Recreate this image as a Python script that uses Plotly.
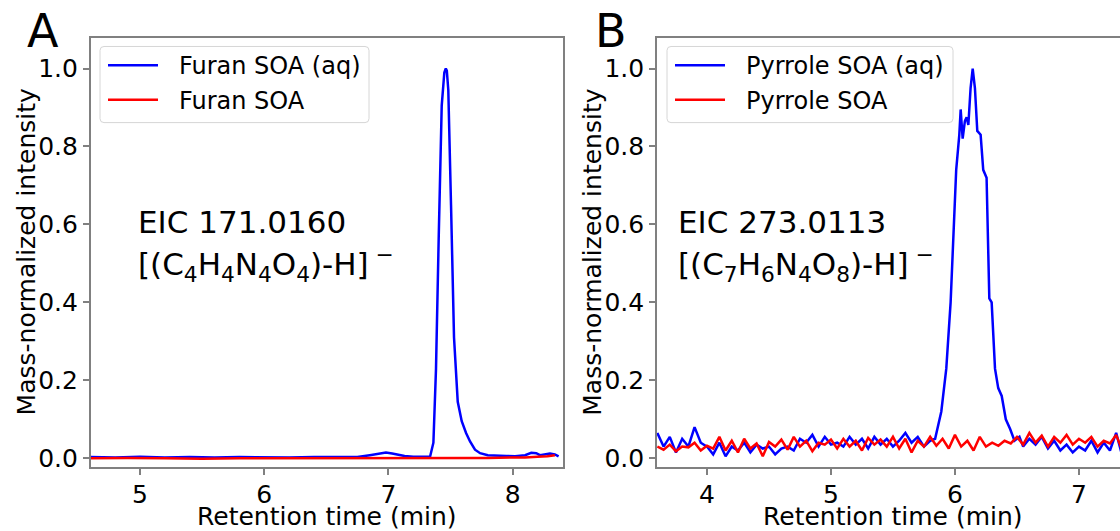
import plotly.graph_objects as go

# ---------------- Data ----------------
# Panel A: EIC 171.0160, Furan SOA
furan_aq_time = [4.60, 4.80, 5.00, 5.20, 5.40, 5.60, 5.80, 6.00, 6.20, 6.40, 6.60, 6.75,
                 6.85, 6.93, 6.98, 7.03, 7.08, 7.13, 7.20, 7.28, 7.335, 7.362, 7.383,
                 7.405, 7.429, 7.45, 7.462, 7.47, 7.482, 7.504, 7.528, 7.558, 7.59,
                 7.625, 7.657, 7.697, 7.738, 7.80, 7.88, 7.95, 8.02, 8.10, 8.15, 8.19,
                 8.22, 8.26, 8.30, 8.34, 8.37]
furan_aq_int = [0.003, 0.002, 0.004, 0.002, 0.003, 0.002, 0.003, 0.002, 0.002, 0.003, 0.002, 0.003,
                0.008, 0.013, 0.015, 0.012, 0.009, 0.006, 0.004, 0.003, 0.004, 0.040, 0.230,
                0.570, 0.905, 0.990, 1.000, 0.995, 0.945, 0.650, 0.310, 0.145, 0.095,
                0.065, 0.043, 0.022, 0.013, 0.008, 0.006, 0.006, 0.005, 0.008, 0.014, 0.013,
                0.008, 0.010, 0.012, 0.010, 0.005]

furan_time = [4.60, 4.90, 5.20, 5.50, 5.80, 6.10, 6.40, 6.70, 7.00, 7.30, 7.60, 7.80,
              8.00, 8.10, 8.20, 8.28, 8.34]
furan_int = [0.000, 0.001, 0.000, -0.001, 0.000, 0.000, 0.001, 0.000, 0.000, 0.000, 0.000, 0.001,
             0.002, 0.002, 0.004, 0.005, 0.008]

# Panel B: EIC 273.0113, Pyrrole SOA
pyrrole_aq_time = [3.60, 3.65, 3.70, 3.75, 3.80, 3.85, 3.90, 3.95, 4.00, 4.05, 4.10, 4.15,
                   4.20, 4.25, 4.30, 4.35, 4.40, 4.45, 4.50, 4.55, 4.60, 4.65, 4.70, 4.75,
                   4.80, 4.85, 4.90, 4.95, 5.00, 5.05, 5.10, 5.15, 5.20, 5.25, 5.30, 5.35,
                   5.40, 5.45, 5.50, 5.55, 5.60, 5.65, 5.70, 5.75, 5.80, 5.84, 5.89, 5.93,
                   5.965, 5.99, 6.01, 6.035, 6.046, 6.062, 6.08, 6.094, 6.108, 6.126, 6.143,
                   6.161, 6.18, 6.207, 6.228, 6.255, 6.277, 6.296, 6.323, 6.349, 6.377, 6.41,
                   6.445, 6.48, 6.52, 6.55, 6.60, 6.65, 6.70, 6.75, 6.80, 6.85, 6.90, 6.95,
                   7.00, 7.05, 7.10, 7.15, 7.20, 7.25, 7.30, 7.35, 7.40]
pyrrole_aq_int = [0.065, 0.030, 0.055, 0.015, 0.050, 0.030, 0.080, 0.040, 0.030, 0.010, 0.040, 0.005,
                  0.030, 0.020, 0.040, 0.015, 0.035, 0.025, 0.030, 0.010, 0.025, 0.030, 0.020, 0.050,
                  0.040, 0.060, 0.030, 0.055, 0.035, 0.040, 0.030, 0.055, 0.035, 0.050, 0.025, 0.055,
                  0.035, 0.050, 0.030, 0.045, 0.065, 0.040, 0.055, 0.030, 0.045, 0.050, 0.120, 0.230,
                  0.400, 0.570, 0.740, 0.830, 0.895, 0.820, 0.865, 0.875, 0.855, 0.950, 1.000,
                  0.950, 0.840, 0.830, 0.740, 0.720, 0.410, 0.400, 0.230, 0.180, 0.160, 0.100,
                  0.075, 0.045, 0.055, 0.030, 0.050, 0.035, 0.055, 0.025, 0.045, 0.020, 0.035, 0.015,
                  0.030, 0.020, 0.045, 0.015, 0.040, 0.020, 0.065, 0.005, 0.050]

pyrrole_time = [3.60, 3.65, 3.70, 3.75, 3.80, 3.85, 3.90, 3.95, 4.00, 4.05, 4.10, 4.15,
                4.20, 4.25, 4.30, 4.35, 4.40, 4.45, 4.50, 4.55, 4.60, 4.65, 4.70, 4.75,
                4.80, 4.85, 4.90, 4.95, 5.00, 5.05, 5.10, 5.15, 5.20, 5.25, 5.30, 5.35,
                5.40, 5.45, 5.50, 5.55, 5.60, 5.65, 5.70, 5.75, 5.80, 5.85, 5.90, 5.95,
                6.00, 6.05, 6.10, 6.15, 6.20, 6.25, 6.30, 6.35, 6.40, 6.45, 6.50, 6.55,
                6.60, 6.65, 6.70, 6.75, 6.80, 6.85, 6.90, 6.95, 7.00, 7.05, 7.10, 7.15,
                7.20, 7.25, 7.30, 7.35, 7.40]
pyrrole_int = [0.030, 0.022, 0.035, 0.018, 0.030, 0.028, 0.040, 0.020, 0.032, 0.025, 0.055, 0.020,
               0.045, 0.015, 0.050, 0.025, 0.038, 0.005, 0.042, 0.030, 0.048, 0.022, 0.055, 0.030,
               0.045, 0.018, 0.040, 0.035, 0.048, 0.025, 0.050, 0.030, 0.045, 0.020, 0.052, 0.035,
               0.048, 0.030, 0.055, 0.025, 0.050, 0.015, 0.045, 0.030, 0.055, 0.032, 0.050, 0.025,
               0.060, 0.030, 0.045, 0.020, 0.055, 0.030, 0.040, 0.032, 0.045, 0.038, 0.055, 0.035,
               0.065, 0.040, 0.058, 0.030, 0.055, 0.040, 0.060, 0.035, 0.050, 0.040, 0.055, 0.030,
               0.045, 0.038, 0.060, 0.020, 0.050]

x_ticks_a = [5, 6, 7, 8]
x_ticks_b = [4, 5, 6, 7]
y_ticks = [0.0, 0.2, 0.4, 0.6, 0.8, 1.0]

legend_a = ["Furan SOA (aq)", "Furan SOA"]
legend_b = ["Pyrrole SOA (aq)", "Pyrrole SOA"]

# ---------------- Figure ----------------
W, H = 1120, 531
FONT = "DejaVu Sans"
TICK_FS = 25
LEG_FS = 24
AXIS_GRAY = "#808080"
BLUE, RED = "#0000ff", "#ff0000"
LW = 2.5

fig = go.Figure()
fig.add_trace(go.Scatter(x=furan_aq_time, y=furan_aq_int, mode="lines", name=legend_a[0],
                         line=dict(color=BLUE, width=LW), xaxis="x", yaxis="y"))
fig.add_trace(go.Scatter(x=furan_time, y=furan_int, mode="lines", name=legend_a[1],
                         line=dict(color=RED, width=LW), xaxis="x", yaxis="y"))
fig.add_trace(go.Scatter(x=pyrrole_aq_time, y=pyrrole_aq_int, mode="lines", name=legend_b[0],
                         line=dict(color=BLUE, width=LW), xaxis="x2", yaxis="y2"))
fig.add_trace(go.Scatter(x=pyrrole_time, y=pyrrole_int, mode="lines", name=legend_b[1],
                         line=dict(color=RED, width=LW), xaxis="x2", yaxis="y2"))


def px(x):
    return x / W


def py(y):
    return 1 - y / H


top_px, bot_px = 38.3, 472.3
a_left, a_right = 90.7, 562.7
b_left = 657.0
ydom = [py(bot_px), py(top_px)]

axis_common = dict(showline=True, linecolor=AXIS_GRAY, linewidth=1.6, ticks="outside",
                   ticklen=6, tickwidth=1.5, tickcolor=AXIS_GRAY, showgrid=False, zeroline=False,
                   tickfont=dict(family=FONT, size=TICK_FS, color="black"))

fig.update_layout(
    width=W, height=H,
    margin=dict(l=0, r=0, t=0, b=0),
    paper_bgcolor="white", plot_bgcolor="white",
    font=dict(family=FONT, color="black"),
    showlegend=False,
    xaxis=dict(domain=[px(a_left), px(a_right)], range=[4.603, 8.403], anchor="y",
               tickvals=x_ticks_a, mirror=True, ticklabelstandoff=-2, **axis_common),
    yaxis=dict(domain=ydom, range=[-0.0223, 1.0787], anchor="x",
               tickvals=y_ticks, tickformat=".1f", mirror=True, **axis_common),
    xaxis2=dict(domain=[px(b_left), 1.0], range=[3.597, 7.331], anchor="y2",
                tickvals=x_ticks_b, mirror=True, ticklabelstandoff=-2, **axis_common),
    yaxis2=dict(domain=ydom, range=[-0.0223, 1.0787], anchor="x2",
                tickvals=y_ticks, tickformat=".1f", mirror=False, **axis_common),
)

annotations = []
shapes = []


# Legends drawn as boxes + line samples + text
def rounded_box(x0, y0, x1, y1, r):
    rx, ry = r / W, r / H
    X0, X1 = px(x0), px(x1)
    Y0, Y1 = py(y0), py(y1)  # Y0 is top
    return (f"M{X0 + rx},{Y0} L{X1 - rx},{Y0} Q{X1},{Y0} {X1},{Y0 - ry} "
            f"L{X1},{Y1 + ry} Q{X1},{Y1} {X1 - rx},{Y1} L{X0 + rx},{Y1} "
            f"Q{X0},{Y1} {X0},{Y1 + ry} L{X0},{Y0 - ry} Q{X0},{Y0} {X0 + rx},{Y0} Z")


for labels, box_left, box_right in ((legend_a, 100, 369), (legend_b, 667, 953)):
    shapes.append(dict(type="path", xref="paper", yref="paper",
                       path=rounded_box(box_left, 47, box_right, 124, 4),
                       fillcolor="rgba(255,255,255,0.8)", line=dict(color="#d6d6d6", width=1),
                       layer="above"))
    for lab, color, yrow in zip(labels, (BLUE, RED), (66, 101)):
        shapes.append(dict(type="line", xref="paper", yref="paper",
                           x0=px(box_left + 8), x1=px(box_left + 58), y0=py(yrow), y1=py(yrow),
                           line=dict(color=color, width=LW), layer="above"))
        annotations.append(dict(text=lab, x=px(box_left + 77), y=py(yrow + 1), xref="paper",
                                yref="paper", xanchor="left", yanchor="middle", showarrow=False,
                                font=dict(family=FONT, size=LEG_FS, color="black")))

# Panel letters
for letter, xc in (("A", 43), ("B", 611)):
    annotations.append(dict(text=letter, x=px(xc), y=py(31), xref="paper", yref="paper",
                            xanchor="center", yanchor="middle", showarrow=False,
                            font=dict(family=FONT, size=46, color="black")))
# EIC labels
eic = [("EIC 171.0160", "[(C<sub>4</sub>H<sub>4</sub>N<sub>4</sub>O<sub>4</sub>)-H]<sup> −</sup>", 136),
       ("EIC 273.0113", "[(C<sub>7</sub>H<sub>6</sub>N<sub>4</sub>O<sub>8</sub>)-H]<sup> −</sup>", 676)]
for l1, l2, xl in eic:
    annotations.append(dict(text=l1, x=px(xl), y=py(225), xref="paper", yref="paper",
                            xanchor="left", yanchor="middle", showarrow=False,
                            font=dict(family=FONT, size=31, color="black")))
    annotations.append(dict(text=l2, x=px(xl), y=py(268), xref="paper", yref="paper",
                            xanchor="left", yanchor="middle", showarrow=False,
                            font=dict(family=FONT, size=31, color="black")))
# Axis titles
for xc in ((a_left + a_right) / 2, b_left + (a_right - a_left) / 2):
    annotations.append(dict(text="Retention time (min)", x=px(xc), y=py(522), xref="paper",
                            yref="paper", xanchor="center", yanchor="middle", showarrow=False,
                            font=dict(family=FONT, size=TICK_FS, color="black")))
for xc in (26, 26 + (b_left - a_left)):
    annotations.append(dict(text="Mass-normalized intensity", x=px(xc), y=py((top_px + bot_px) / 2),
                            xref="paper", yref="paper", xanchor="center", yanchor="middle",
                            textangle=-90, showarrow=False,
                            font=dict(family=FONT, size=TICK_FS, color="black")))
fig.update_layout(annotations=annotations, shapes=shapes)

fig.write_html("out.html")
